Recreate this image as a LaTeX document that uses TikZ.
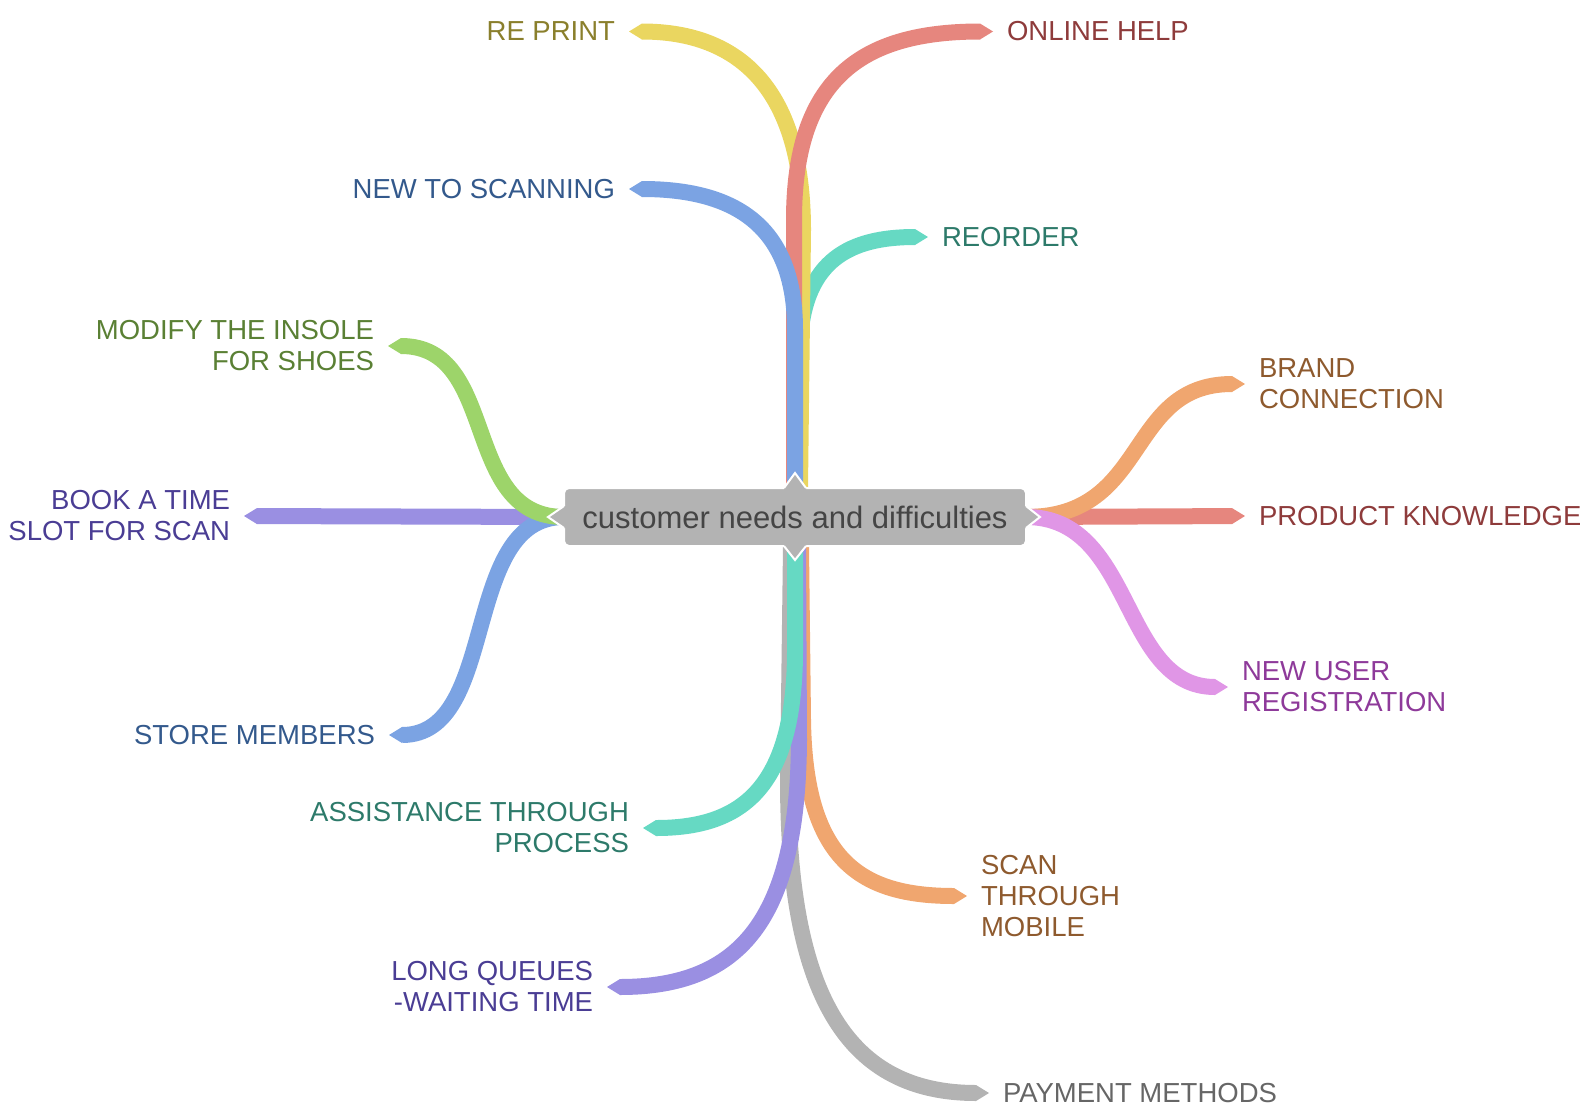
\documentclass[tikz,border=0pt]{standalone}
\usepackage{fontspec}
\setmainfont{Liberation Sans}
\usetikzlibrary{arrows.meta}
\pgfdeclarelayer{bg}
\pgfsetlayers{bg,main}
\definecolor{cyellow}{HTML}{EAD660}
\definecolor{tyellow}{HTML}{8A7F2C}
\definecolor{cred}{HTML}{E6867E}
\definecolor{tred}{HTML}{8E3B3B}
\definecolor{cblue}{HTML}{7BA3E3}
\definecolor{tblue}{HTML}{33598C}
\definecolor{cteal}{HTML}{66D9C3}
\definecolor{tteal}{HTML}{2D7A6A}
\definecolor{cgreen}{HTML}{9DD46A}
\definecolor{tgreen}{HTML}{5A8034}
\definecolor{cpurple}{HTML}{9A8FE2}
\definecolor{tpurple}{HTML}{4A3D94}
\definecolor{cpink}{HTML}{E096E6}
\definecolor{tpink}{HTML}{8E3A9A}
\definecolor{corange}{HTML}{F0A66F}
\definecolor{torange}{HTML}{8E5A2E}
\definecolor{cgray}{HTML}{B3B3B3}
\definecolor{tgray}{HTML}{666666}
\definecolor{troot}{HTML}{454545}
\begin{document}
\begin{tikzpicture}[x=1pt,y=-1pt,
  br/.style={line width=16pt, draw=#1, -{Triangle[length=13pt,width=16pt,line width=0pt]}},
  lbl/.style={inner xsep=14pt, inner ysep=0pt, outer sep=0pt, font=\fontsize{27.5}{31}\selectfont},
  lbll/.style={lbl, anchor=east, align=right},
  lblr/.style={lbl, anchor=west, align=left},
  rootbox/.style={fill=cgray, draw=white, line width=2pt, rounded corners=5pt,
    minimum width=462pt, minimum height=58pt, inner sep=0pt, outer sep=0pt,
    text=troot, font=\fontsize{31}{36}\selectfont},
  notchfill/.style={fill=cgray},
  notchline/.style={draw=white, line width=2pt, line join=miter},
]
\useasboundingbox (0,0) rectangle (1580,1112);

\node[rootbox] (root) at (795,517) {customer needs and difficulties};

% labels
\node[lbll, text=tyellow] (reprint) at (629,31.5) {RE PRINT};
\node[lblr, text=tred] (online) at (993,31.5) {ONLINE HELP};
\node[lbll, text=tblue] (newscan) at (629,189) {NEW TO SCANNING};
\node[lblr, text=tteal] (reorder) at (928,237) {REORDER};
\node[lbll, text=tgreen] (modify) at (388,346) {MODIFY THE INSOLE\\FOR SHOES};
\node[lbll, text=tpurple] (book) at (244,516) {BOOK A TIME\\SLOT FOR SCAN};
\node[lbll, text=tblue] (store) at (389,735) {STORE MEMBERS};
\node[lbll, text=tteal] (assist) at (643,828) {ASSISTANCE THROUGH\\PROCESS};
\node[lbll, text=tpurple] (long) at (607,987) {LONG QUEUES\\-WAITING TIME};
\node[lblr, text=torange] (brand) at (1245,384) {BRAND\\CONNECTION};
\node[lblr, text=tred] (product) at (1245,516) {PRODUCT KNOWLEDGE};
\node[lblr, text=tpink] (newuser) at (1228,687) {NEW USER\\REGISTRATION};
\node[lblr, text=torange] (scan) at (967,896) {SCAN\\THROUGH\\MOBILE};
\node[lblr, text=tgray] (payment) at (989,1093) {PAYMENT METHODS};

\begin{pgfonlayer}{bg}
% top branches
\draw[br=cteal] ([xshift=4pt]root.north) -- (800,340) .. controls (805,260) and (850,237) .. (reorder.west);
\draw[br=cyellow] ([xshift=5pt]root.north) -- (803,230) .. controls (803,90) and (740,31.5) .. (reprint.east);
\draw[br=cred] ([xshift=-1pt]root.north) -- (794,220) .. controls (794,80) and (860,31.5) .. (online.west);
\draw[br=cblue] (root.north) -- (795,330) .. controls (795,230) and (740,189) .. (newscan.east);
% bottom branches
\draw[br=cgray] ([xshift=-4pt]root.south) -- (788,780) .. controls (788,1000) and (850,1093) .. (payment.west);
\draw[br=corange] ([xshift=6pt]root.south) -- (803,720) .. controls (805,860) and (860,896) .. (scan.west);
\draw[br=cpurple] ([xshift=3pt]root.south) -- (799,740) .. controls (798,920) and (740,987) .. (long.east);
\draw[br=cteal] (root.south) -- (795,650) .. controls (795,790) and (740,828) .. (assist.east);
% left branches
\draw[br=cpurple] (root.west) -- (book.east);
\draw[br=cblue] (root.west) .. controls (460,517) and (500,735) .. (store.east);
\draw[br=cgreen] (root.west) .. controls (460,517) and (500,346) .. (modify.east);
% right branches
\draw[br=cred] (root.east) -- (product.west);
\draw[br=corange] (root.east) .. controls (1150,517) and (1125,384) .. (brand.west);
\draw[br=cpink] (root.east) .. controls (1135,517) and (1120,687) .. (newuser.west);
\end{pgfonlayer}

% notches of the central node
\fill[notchfill] ([xshift=-11pt,yshift=-3pt]root.north) -- ([xshift=-11pt]root.north) -- ([yshift=15pt]root.north) -- ([xshift=11pt]root.north) -- ([xshift=11pt,yshift=-3pt]root.north) -- cycle;
\draw[notchline] ([xshift=-11pt]root.north) -- ([yshift=15pt]root.north) -- ([xshift=11pt]root.north);
\fill[notchfill] ([xshift=-11pt,yshift=3pt]root.south) -- ([xshift=-11pt]root.south) -- ([yshift=-14pt]root.south) -- ([xshift=11pt]root.south) -- ([xshift=11pt,yshift=3pt]root.south) -- cycle;
\draw[notchline] ([xshift=-11pt]root.south) -- ([yshift=-14pt]root.south) -- ([xshift=11pt]root.south);
\fill[notchfill] ([yshift=-11pt,xshift=3pt]root.west) -- ([yshift=-11pt]root.west) -- ([xshift=-16pt]root.west) -- ([yshift=11pt]root.west) -- ([yshift=11pt,xshift=3pt]root.west) -- cycle;
\draw[notchline] ([yshift=-11pt]root.west) -- ([xshift=-16pt]root.west) -- ([yshift=11pt]root.west);
\fill[notchfill] ([yshift=-11pt,xshift=-3pt]root.east) -- ([yshift=-11pt]root.east) -- ([xshift=14pt]root.east) -- ([yshift=11pt]root.east) -- ([yshift=11pt,xshift=-3pt]root.east) -- cycle;
\draw[notchline] ([yshift=-11pt]root.east) -- ([xshift=14pt]root.east) -- ([yshift=11pt]root.east);
\end{tikzpicture}
\end{document}
